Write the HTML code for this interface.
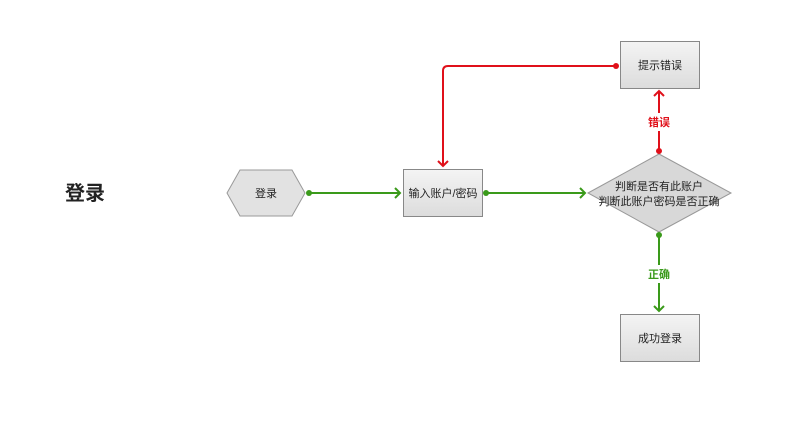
<!DOCTYPE html>
<html><head><meta charset="utf-8"><style>
html,body{margin:0;padding:0;background:#fff;}
svg text{font-family:"Liberation Sans","Noto Sans CJK SC",sans-serif;}
</style></head><body>
<svg width="800" height="416" viewBox="0 0 800 416" xmlns="http://www.w3.org/2000/svg">
<defs>
<linearGradient id="g" x1="0" y1="0" x2="0" y2="1"><stop offset="0" stop-color="#f4f4f4"/><stop offset="1" stop-color="#dcdcdc"/></linearGradient>
</defs>
<rect width="800" height="416" fill="#fff"/>
<text x="85" y="200" font-size="20" font-weight="bold" text-anchor="middle" fill="#222">登录</text>
<!-- hexagon -->
<polygon points="227,193 240,170 292,170 305,193 292,216 240,216" fill="#e2e2e2" stroke="#999"/>
<text x="266" y="197" font-size="11" text-anchor="middle" fill="#222">登录</text>
<!-- input box -->
<rect x="403.5" y="169.5" width="79" height="47" fill="url(#g)" stroke="#888"/>
<text x="443" y="197" font-size="11" text-anchor="middle" fill="#222">输入账户/密码</text>
<!-- diamond -->
<polygon points="588,193 659,154 731,193 659,232" fill="#d8d8d8" stroke="#999"/>
<text x="659" y="190" font-size="11" text-anchor="middle" fill="#222">判断是否有此账户</text>
<text x="659" y="205" font-size="11" text-anchor="middle" fill="#222">判断此账户密码是否正确</text>
<!-- error box -->
<rect x="620.5" y="41.5" width="79" height="47" fill="url(#g)" stroke="#888"/>
<text x="660" y="69" font-size="11" text-anchor="middle" fill="#222">提示错误</text>
<!-- success box -->
<rect x="620.5" y="314.5" width="79" height="47" fill="url(#g)" stroke="#888"/>
<text x="660" y="342" font-size="11" text-anchor="middle" fill="#222">成功登录</text>
<!-- green lines -->
<g stroke="#3a9a1a" stroke-width="2" fill="none">
<line x1="309" y1="193" x2="400" y2="193"/>
<polyline points="395,188 400,193 395,198"/>
<line x1="486" y1="193" x2="585" y2="193"/>
<polyline points="580,188 585,193 580,198"/>
<line x1="659" y1="235" x2="659" y2="265"/>
<line x1="659" y1="283" x2="659" y2="311"/>
<polyline points="654,306 659,311 664,306"/>
</g>
<g fill="#3a9a1a"><circle cx="309" cy="193" r="3"/><circle cx="486" cy="193" r="3"/><circle cx="659" cy="235" r="3"/></g>
<text x="659" y="278" font-size="11" text-anchor="middle" fill="#3a9a1a" font-weight="bold">正确</text>
<!-- red lines -->
<g stroke="#e0101a" stroke-width="2" fill="none">
<path d="M616,66 L448,66 Q443,66 443,71 L443,166"/>
<polyline points="438,161 443,166 448,161"/>
<line x1="659" y1="151" x2="659" y2="131"/>
<line x1="659" y1="113" x2="659" y2="91"/>
<polyline points="654,96 659,91 664,96"/>
</g>
<g fill="#e0101a"><circle cx="616" cy="66" r="3"/><circle cx="659" cy="151" r="3"/></g>
<text x="659" y="126" font-size="11" text-anchor="middle" fill="#e0101a" font-weight="bold">错误</text>
</svg>
</body></html>
